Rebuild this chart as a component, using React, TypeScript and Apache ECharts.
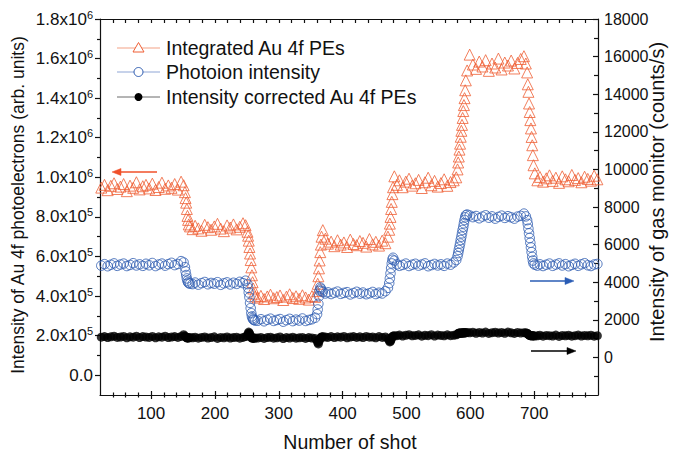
import React, { useEffect, useRef } from "react";
import * as echarts from "echarts";

// Shot numbers at which the three signals were sampled (plateaus and level changes)
const SHOTS = [
  22, 27, 32, 37, 42, 47, 52, 57, 62, 67, 72, 77, 82, 87, 92, 97, 102, 107, 112, 117, 122, 127, 132, 137, 142, 147,
  151, 153, 154, 155, 156, 157, 158, 159, 161,
  165, 169, 174, 179, 184, 189, 194, 199, 204, 209, 214, 219, 224, 229, 234, 239, 244, 248,
  251, 252, 253, 254, 255, 256, 257, 258, 259, 260, 261, 263,
  267, 272, 277, 282, 287, 292, 297, 302, 307, 312, 317, 322, 327, 332, 337, 342, 347, 352, 357,
  360, 361, 362, 363, 364, 365, 366, 367, 369,
  373, 377, 382, 387, 392, 397, 402, 407, 412, 417, 422, 427, 432, 437, 442, 447, 452, 457, 462, 467,
  471, 473, 474, 475, 476, 477, 478, 479, 481,
  485, 489, 494, 499, 504, 509, 514, 519, 524, 529, 534, 539, 544, 549, 554, 559, 564, 569, 574,
  578, 580, 581, 582, 583, 584, 585, 586, 587, 588, 589, 590, 591, 592, 593, 595,
  599, 604, 609, 614, 619, 624, 629, 634, 639, 644, 649, 654, 659, 664, 669, 674, 679, 684,
  687, 689, 690, 691, 692, 693, 694, 695, 696, 697, 698, 699, 701,
  705, 709, 714, 719, 724, 729, 734, 739, 744, 749, 754, 759, 764, 769, 774, 779, 784, 789, 794, 799,
];

// Integrated Au 4f photoelectrons, in units of 10^3 (arb. units)
const INTEGRATED_PE = [
  948, 962, 935, 957, 970, 941, 953, 966, 930, 958, 947, 975, 939, 955, 962, 944, 968, 936, 951, 973, 942, 959, 947, 966, 938, 978,
  960, 925, 895, 872, 840, 805, 785, 762, 752,
  738, 755, 742, 730, 760, 748, 735, 752, 765, 741, 728, 757, 746, 762, 737, 750, 768, 758,
  725, 705, 680, 648, 615, 582, 545, 505, 470, 438, 412, 398,
  392, 401, 385, 398, 407, 389, 395, 403, 380, 397, 409, 390, 399, 386, 404, 393, 382, 400, 396,
  425, 462, 500, 540, 580, 622, 660, 700, 733,
  690, 665, 675, 652, 682, 660, 671, 648, 685, 663, 657, 678, 669, 650, 688, 661, 674, 655, 680, 667,
  700, 735, 766, 800, 840, 876, 915, 950, 1005,
  962, 985, 950, 978, 993, 958, 970, 987, 946, 975, 998, 960, 982, 953, 971, 990, 957, 976, 985,
  1000, 1040, 1075, 1105, 1140, 1170, 1205, 1235, 1265, 1300, 1335, 1365, 1400, 1440, 1490, 1540,
  1620, 1570, 1548, 1585, 1560, 1592, 1538, 1575, 1555, 1600, 1545, 1580, 1565, 1590, 1550, 1578, 1598, 1612,
  1575, 1530, 1470, 1432, 1373, 1330, 1289, 1247, 1204, 1162, 1112, 1061, 1020,
  985, 1002, 978, 995, 1010, 982, 998, 972, 1005, 990, 980, 1012, 987, 996, 975, 1003, 992, 983, 1008, 990,
];

// Photoion intensity from the gas monitor, counts/s
const PHOTOION = [
  4880, 4960, 4850, 4930, 5000, 4870, 4940, 4990, 4860, 4920, 5010, 4890, 4950, 4870, 4980, 4900, 5020, 4860, 4940, 4990, 4880, 4960, 5030, 4910, 4970, 5120,
  5050, 4800, 4580, 4380, 4200, 4080, 3990, 3950, 3920,
  3900, 3980, 3870, 3950, 4010, 3890, 3960, 3920, 4000, 3860, 3940, 3990, 3880, 3970, 3910, 4020, 3950, 4080,
  3900, 3700, 3450, 3200, 2900, 2620, 2350, 2180, 2080, 2020, 1990, 1960,
  1950, 2030, 1920, 2000, 2060, 1940, 1990, 2040, 1900, 1980, 2050, 1930, 2010, 1960, 2070, 1940, 1990, 2030, 2110,
  2300, 2550, 2850, 3250, 3550, 3720, 3650, 3550, 3480,
  3400, 3460, 3370, 3440, 3500, 3380, 3430, 3470, 3350, 3420, 3490, 3390, 3450, 3360, 3410, 3480, 3370, 3440, 3400, 3520,
  3700, 3950, 4200, 4470, 4750, 5000, 5200, 5300, 5150,
  4950, 4870, 4920, 4990, 4860, 4930, 4980, 4880, 4940, 5000, 4850, 4910, 4970, 4890, 4950, 4870, 4990, 4930, 5050,
  5180, 5380, 5550, 5720, 5890, 6060, 6245, 6420, 6600, 6780, 6950, 7130, 7310, 7450, 7560, 7600,
  7550, 7460, 7520, 7400, 7490, 7560, 7430, 7500, 7380, 7470, 7540, 7420, 7510, 7450, 7380, 7490, 7530, 7650,
  7500, 7300, 7100, 6850, 6600, 6350, 6100, 5850, 5600, 5350, 5150, 5000, 4930,
  4880, 4950, 4860, 4930, 4990, 4870, 4940, 5000, 4890, 4960, 4850, 4920, 4980, 4870, 4950, 5010, 4900, 4860, 4940, 4970,
];

// Intensity-corrected Au 4f photoelectrons, in units of 10^3 (arb. units)
const CORRECTED_PE = [
  192, 195, 190, 194, 197, 191, 193, 196, 189, 194, 192, 197, 190, 195, 193, 191, 196, 189, 194, 192, 197, 190, 193, 195, 191, 196,
  205, 198, 194, 191, 189, 187, 190, 188, 191,
  189, 192, 187, 191, 193, 188, 190, 194, 186, 191, 189, 193, 188, 190, 192, 187, 191, 195,
  200, 210, 218, 212, 205, 196, 190, 188, 187, 189, 186, 188,
  188, 191, 186, 190, 192, 187, 189, 193, 185, 190, 188, 192, 187, 189, 191, 186, 190, 188, 185,
  175, 165, 158, 170, 180, 186, 190, 193, 195,
  193, 191, 195, 190, 194, 192, 196, 189, 193, 195, 191, 194, 190, 196, 192, 193, 189, 195, 191, 193,
  185, 175, 168, 172, 180, 188, 195, 198, 200,
  200, 203, 198, 202, 205, 199, 201, 204, 197, 202, 200, 205, 198, 203, 201, 199, 204, 200, 202,
  204, 208, 211, 213, 212, 214, 211, 213, 215, 212, 214, 216, 213, 215, 214, 216,
  214, 217, 212, 216, 213, 218, 211, 215, 217, 213, 216, 212, 218, 214, 211, 216, 213, 215,
  214, 212, 209, 206, 203, 201, 200, 199, 201, 198, 200, 199, 198,
  199, 202, 197, 201, 200, 198, 203, 196, 201, 199, 202, 197, 200, 203, 198, 201, 199, 202, 197, 200,
];

// Axis ranges and tick labels
const X_RANGE = [20, 800];
const X_TICKS = [100, 200, 300, 400, 500, 600, 700];
const X_MINOR_TICKS = [
  40, 60, 80, 120, 140, 160, 180, 220, 240, 260, 280, 320, 340, 360, 380,
  420, 440, 460, 480, 520, 540, 560, 580, 620, 640, 660, 680, 720, 740, 760, 780,
];
const LEFT_RANGE = [-100, 1800];
const LEFT_TICKS = [0, 200, 400, 600, 800, 1000, 1200, 1400, 1600, 1800];
const LEFT_MANTISSA = ["0.0", "2.0x10", "4.0x10", "6.0x10", "8.0x10", "1.0x10", "1.2x10", "1.4x10", "1.6x10", "1.8x10"];
const LEFT_EXPONENT = ["", "5", "5", "5", "5", "6", "6", "6", "6", "6"];
const LEFT_MINOR_TICKS = [100, 300, 500, 700, 900, 1100, 1300, 1500, 1700];
const RIGHT_RANGE = [-2000, 18000];
const RIGHT_TICKS = [0, 2000, 4000, 6000, 8000, 10000, 12000, 14000, 16000, 18000];
const RIGHT_MINOR_TICKS = [-1000, 1000, 3000, 5000, 7000, 9000, 11000, 13000, 15000, 17000];

const SERIES_NAMES = ["Integrated Au 4f PEs", "Photoion intensity", "Intensity corrected Au 4f PEs"];
const LEFT_TITLE = "Intensity of Au 4f photoelectrons (arb. units)";
const RIGHT_TITLE = "Intensity of gas monitor (counts/s)";
const X_TITLE = "Number of shot";

const FONT = '"Liberation Sans", Arial, Helvetica, sans-serif';
const ORANGE = "#ef5f35";
const BLUE = "#2d5bb0";
const INK = "#111111";

function pairs(values: number[]) {
  return SHOTS.map((s, i) => [s, values[i]]);
}

function xAxisBase() {
  return {
    type: "value",
    min: X_RANGE[0],
    max: X_RANGE[1],
    splitLine: { show: false },
    axisLine: { show: false, onZero: false },
    axisTick: { show: false },
    axisLabel: { show: false },
  };
}

function yAxisBase(range: number[], position: string) {
  return {
    type: "value",
    position,
    min: range[0],
    max: range[1],
    splitLine: { show: false },
    axisLine: { show: false, onZero: false },
    axisTick: { show: false },
    axisLabel: { show: false },
  };
}

function arrow(x1: number, x2: number, y: number, color: string) {
  // shaft from x1 towards x2, head at x2
  const dir = x2 > x1 ? 1 : -1;
  const back = x2 - dir * 9;
  return [
    {
      type: "line",
      shape: { x1, y1: y, x2: back, y2: y },
      style: { stroke: color, lineWidth: 1.6 },
      z: 10,
    },
    {
      type: "polygon",
      shape: { points: [[x2, y], [back, y - 3.5], [back, y + 3.5]] },
      style: { fill: color, stroke: color, lineWidth: 0.5 },
      z: 10,
    },
  ];
}

function legendRow(y: number, idx: number) {
  const lineColors = ["#f3a185", "#8ea5d5", "#6a6a6a"];
  const cx = 138.5;
  let marker: any;
  if (idx === 0) {
    marker = {
      type: "polygon",
      shape: { points: [[cx, y - 5.5], [cx - 5.5, y + 4], [cx + 5.5, y + 4]] },
      style: { fill: "#ffffff", stroke: ORANGE, lineWidth: 1 },
      z: 11,
    };
  } else if (idx === 1) {
    marker = {
      type: "circle",
      shape: { cx, cy: y, r: 4.5 },
      style: { fill: "#ffffff", stroke: BLUE, lineWidth: 1 },
      z: 11,
    };
  } else {
    marker = {
      type: "circle",
      shape: { cx, cy: y, r: 4 },
      style: { fill: "#000000" },
      z: 11,
    };
  }
  return [
    {
      type: "line",
      shape: { x1: 117, y1: y, x2: 160, y2: y },
      style: { stroke: lineColors[idx], lineWidth: 1 },
      z: 10,
    },
    marker,
    {
      type: "text",
      x: 166,
      y,
      style: {
        text: SERIES_NAMES[idx],
        fontSize: 19.5,
        fontFamily: FONT,
        fill: INK,
        align: "left",
        verticalAlign: "middle",
      },
      z: 11,
    },
  ];
}

export default function App() {
  const ref = useRef<HTMLDivElement>(null);

  useEffect(() => {
    if (!ref.current) return;
    const chart = echarts.init(ref.current, undefined, { renderer: "svg" });

    const tickLine = { color: INK, width: 1.2 };

    const option: any = {
      animation: false,
      backgroundColor: "#ffffff",
      textStyle: { fontFamily: FONT },
      grid: { left: 100, right: 79, top: 19, bottom: 59, containLabel: false },
      xAxis: [
        {
          ...xAxisBase(),
          position: "bottom",
          axisLine: { show: true, onZero: false, lineStyle: tickLine },
          axisLabel: {
            show: true,
            customValues: X_TICKS,
            fontSize: 17,
            color: INK,
            margin: 10,
            fontFamily: FONT,
          },
        },
        {
          ...xAxisBase(),
          position: "bottom",
          offset: -4,
          axisTick: { show: true, customValues: X_TICKS, length: 8, lineStyle: tickLine },
        },
        {
          ...xAxisBase(),
          position: "bottom",
          offset: -2.5,
          axisTick: { show: true, customValues: X_MINOR_TICKS, length: 5, lineStyle: tickLine },
        },
        {
          ...xAxisBase(),
          position: "top",
          axisLine: { show: true, onZero: false, lineStyle: tickLine },
          axisTick: {
            show: true,
            inside: true,
            customValues: X_TICKS.concat(X_MINOR_TICKS),
            length: 4,
            lineStyle: tickLine,
          },
        },
      ],
      yAxis: [
        {
          ...yAxisBase(LEFT_RANGE, "left"),
          axisLine: { show: true, onZero: false, lineStyle: tickLine },
          axisTick: { show: true, customValues: LEFT_TICKS, length: 5, lineStyle: tickLine },
          axisLabel: {
            show: true,
            customValues: LEFT_TICKS,
            margin: 7,
            color: INK,
            formatter: (v: number) => {
              const i = LEFT_TICKS.indexOf(Math.round(v));
              if (i < 0) return "";
              const m = `{m|${LEFT_MANTISSA[i]}}`;
              return LEFT_EXPONENT[i] ? `${m}{e|${LEFT_EXPONENT[i]}}` : m;
            },
            rich: {
              m: { fontSize: 17, fontFamily: FONT, color: INK, lineHeight: 20 },
              e: { fontSize: 11, fontFamily: FONT, color: INK, lineHeight: 11, verticalAlign: "top" },
            },
          },
        },
        {
          ...yAxisBase(RIGHT_RANGE, "right"),
          axisLine: { show: true, onZero: false, lineStyle: tickLine },
          axisTick: { show: true, inside: true, customValues: RIGHT_TICKS, length: 5, lineStyle: tickLine },
          axisLabel: {
            show: true,
            customValues: RIGHT_TICKS,
            margin: 6,
            fontSize: 16,
            color: INK,
            fontFamily: FONT,
            formatter: (v: number) => String(v),
          },
        },
        {
          ...yAxisBase(LEFT_RANGE, "left"),
          axisTick: { show: true, customValues: LEFT_MINOR_TICKS, length: 3, lineStyle: tickLine },
        },
        {
          ...yAxisBase(RIGHT_RANGE, "right"),
          axisTick: { show: true, inside: true, customValues: RIGHT_MINOR_TICKS, length: 4, lineStyle: tickLine },
        },
      ],
      series: [
        {
          type: "scatter",
          name: SERIES_NAMES[0],
          xAxisIndex: 0,
          yAxisIndex: 0,
          data: pairs(INTEGRATED_PE),
          symbol: "triangle",
          symbolSize: 11,
          itemStyle: { color: "rgba(255,255,255,0)", borderColor: ORANGE, borderWidth: 1 },
          z: 2,
        },
        {
          type: "scatter",
          name: SERIES_NAMES[1],
          xAxisIndex: 0,
          yAxisIndex: 1,
          data: pairs(PHOTOION),
          symbol: "circle",
          symbolSize: 9.5,
          itemStyle: { color: "rgba(255,255,255,0)", borderColor: BLUE, borderWidth: 1 },
          z: 3,
        },
        {
          type: "scatter",
          name: SERIES_NAMES[2],
          xAxisIndex: 0,
          yAxisIndex: 0,
          data: pairs(CORRECTED_PE),
          symbol: "circle",
          symbolSize: 9,
          itemStyle: { color: "#000000" },
          z: 4,
        },
      ],
      graphic: [
        ...legendRow(48, 0),
        ...legendRow(72, 1),
        ...legendRow(97, 2),
        ...arrow(157, 112, 172, "#f0502a"),
        ...arrow(530, 574, 281, "#2a5cb5"),
        ...arrow(531, 576, 351, "#000000"),
        {
          type: "text",
          x: 18,
          y: 205,
          rotation: Math.PI / 2,
          style: {
            text: LEFT_TITLE,
            fontSize: 17.5,
            fontFamily: FONT,
            fill: INK,
            align: "center",
            verticalAlign: "middle",
          },
        },
        {
          type: "text",
          x: 657,
          y: 192,
          rotation: Math.PI / 2,
          style: {
            text: RIGHT_TITLE,
            fontSize: 20,
            fontFamily: FONT,
            fill: INK,
            align: "center",
            verticalAlign: "middle",
          },
        },
        {
          type: "text",
          x: 350,
          y: 442,
          style: {
            text: X_TITLE,
            fontSize: 19.5,
            fontFamily: FONT,
            fill: INK,
            align: "center",
            verticalAlign: "middle",
          },
        },
      ],
    };

    chart.setOption(option);
    return () => {
      chart.dispose();
    };
  }, []);

  return (
    <div
      ref={ref}
      style={{ position: "absolute", left: 0, top: 0, width: 677, height: 454, background: "#fff" }}
    />
  );
}
